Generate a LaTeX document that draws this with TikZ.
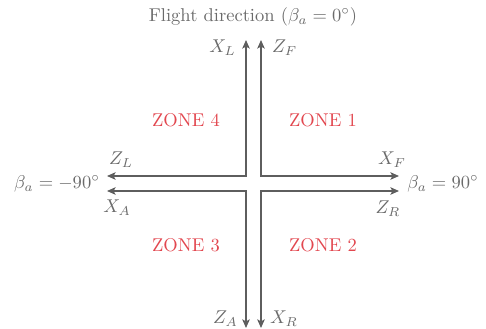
\documentclass[tikz,border=0pt]{standalone}
\usepackage{amsmath,amssymb}
\usepackage{xcolor}
\usepackage{tikz}
\usetikzlibrary{arrows.meta}

\definecolor{axisgray}{HTML}{5E5E5E}
\definecolor{txtgray}{HTML}{6A6A6A}
\definecolor{zonered}{HTML}{E2474F}

\begin{document}
\begin{tikzpicture}[
  x=0.54pt, y=-0.54pt,
  >={Stealth[length=4.6pt, width=4pt, inset=1pt]},
  axis/.style={<->, draw=axisgray, line width=1.15pt},
  lbl/.style={text=txtgray, inner sep=1pt},
  zone/.style={text=zonered, inner sep=1pt}
]
\useasboundingbox (0,0) rectangle (486,329);

% ---------------- corners and free ends ----------------
\coordinate (cTL) at (246,176);
\coordinate (cTR) at (261,176);
\coordinate (cBR) at (261,191);
\coordinate (cBL) at (246,191);
\coordinate (upL) at (246,40);
\coordinate (upR) at (261,40);
\coordinate (dnL) at (246,328);
\coordinate (dnR) at (261,328);
\coordinate (ltT) at (107,176);
\coordinate (ltB) at (107,191);
\coordinate (rtT) at (399,176);
\coordinate (rtB) at (399,191);

% ---------------- body axes ----------------
\draw[axis] (ltT) -- (cTL) -- (upL);
\draw[axis] (upR) -- (cTR) -- (rtT);
\draw[axis] (rtB) -- (cBR) -- (dnR);
\draw[axis] (dnL) -- (cBL) -- (ltB);

% ---------------- labels ----------------
\node[lbl] (flight) at (253,17) {Flight direction ($\beta_a = 0^\circ$)};
\node[lbl, anchor=east] (xl) at (238,48) {$X_L$};
\node[lbl, anchor=west] (zf) at (270,48) {$Z_F$};
\node[lbl] (zl) at (121,160) {$Z_L$};
\node[lbl] (xa) at (117,208) {$X_A$};
\node[lbl] (xf) at (392,160) {$X_F$};
\node[lbl] (zr) at (388,209) {$Z_R$};
\node[lbl] (bm) at (57,184) {$\beta_a = -90^\circ$};
\node[lbl] (bp) at (443,184) {$\beta_a = 90^\circ$};
\node[lbl, anchor=east] (za) at (240,319) {$Z_A$};
\node[lbl, anchor=west] (xr) at (268,319) {$X_R$};

% ---------------- zones ----------------
\node[zone] (z4) at (186,120) {ZONE 4};
\node[zone] (z1) at (323,120) {ZONE 1};
\node[zone] (z3) at (186,245) {ZONE 3};
\node[zone] (z2) at (323,245) {ZONE 2};
\end{tikzpicture}
\end{document}
